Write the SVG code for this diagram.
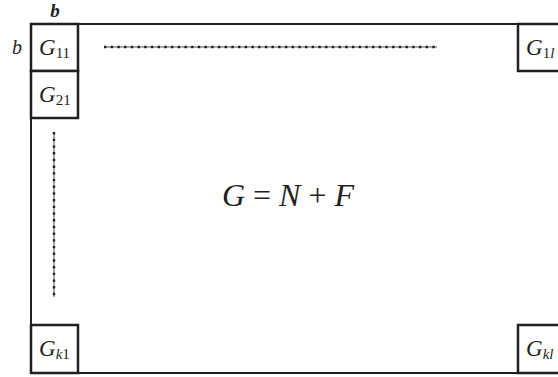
<svg xmlns="http://www.w3.org/2000/svg" width="558" height="377" viewBox="0 0 558 377">
<style>
.frame{fill:none;stroke:#231f20;stroke-width:2}
.box{fill:#fff;stroke:#231f20;stroke-width:2.5}
.m{font-family:"Liberation Serif","Times New Roman",serif;font-style:italic;fill:#231f20}
.sub{font-style:normal;font-size:15px}
.dotline{stroke:#555;stroke-width:1}
.dots{stroke:#231f20;stroke-width:2.4;stroke-dasharray:2.4 4.3}
</style>
<rect class="frame" x="31" y="24" width="540" height="349"/>
<g id="connectors">
<line class="dotline" x1="104" y1="47" x2="437" y2="47"/>
<line class="dots" x1="104" y1="47" x2="437" y2="47"/>
<line class="dotline" x1="54" y1="132" x2="54" y2="297"/>
<line class="dots" x1="54" y1="132" x2="54" y2="297"/>
</g>
<g id="G11"><rect class="box" x="31" y="24" width="47" height="47"/><text class="m" x="39" y="55" font-size="23">G<tspan class="sub" dy="3">11</tspan></text></g>
<g id="G21"><rect class="box" x="31" y="71" width="47" height="47"/><text class="m" x="39" y="102" font-size="23">G<tspan class="sub" dy="3">21</tspan></text></g>
<g id="G1l"><rect class="box" x="518" y="24" width="50" height="47"/><text class="m" x="526" y="55" font-size="23">G<tspan class="sub" dy="3">1</tspan><tspan font-size="15" dy="0">l</tspan></text></g>
<g id="Gk1"><rect class="box" x="31" y="325" width="47" height="48"/><text class="m" x="39" y="356" font-size="23">G<tspan font-size="15" dy="3">k</tspan><tspan class="sub">1</tspan></text></g>
<g id="Gkl"><rect class="box" x="518" y="325" width="50" height="48"/><text class="m" x="526" y="356" font-size="23">G<tspan font-size="15" dy="3">kl</tspan></text></g>
<text class="m" x="55" y="17" font-size="19" font-weight="bold" text-anchor="middle">b</text>
<text class="m" x="17" y="54" font-size="20" text-anchor="middle">b</text>
<text class="m" x="288" y="206" font-size="32" text-anchor="middle">G <tspan font-style="normal">=</tspan> N <tspan font-style="normal">+</tspan> F</text>
</svg>
